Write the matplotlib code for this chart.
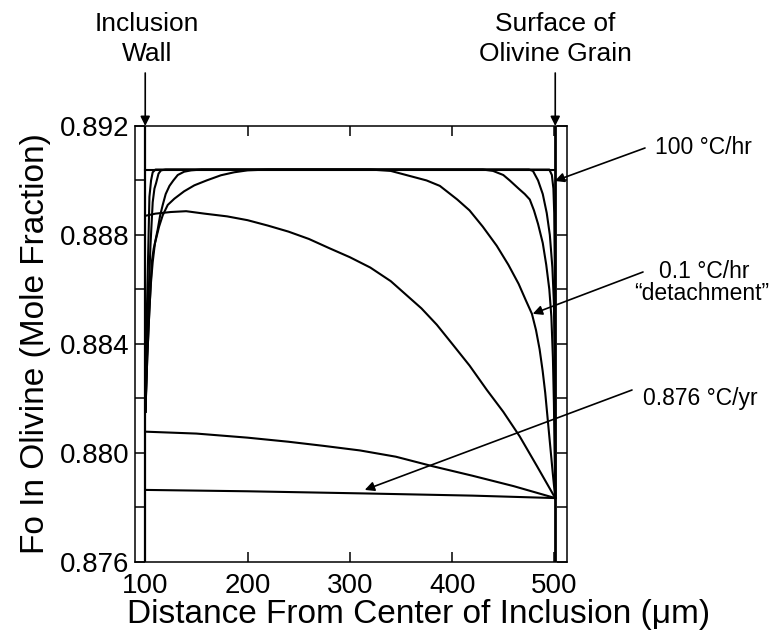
import numpy as np
import matplotlib
matplotlib.use("Agg")
import matplotlib.pyplot as plt
from matplotlib.ticker import MultipleLocator, FormatStrFormatter

plt.rcParams['font.family'] = ['Liberation Sans', 'DejaVu Sans']

# profiles: distance (um) vs Fo
x_a = [100, 500.8]
y_a = [0.8904, 0.8904]

x_b = [100.3, 101.5, 103.4, 104.1, 105.7, 107.3, 110, 495, 497.5, 499, 499.8, 500.3, 500.6, 500.8]
y_b = [0.8815, 0.8850, 0.8882, 0.8894, 0.8900, 0.8903, 0.8904, 0.8904, 0.8902, 0.8897, 0.8888, 0.8870, 0.8830, 0.87833]

x_c = [100.2, 102, 103.5, 105.1, 107.3, 109, 110.6, 113, 115.4, 120,
       475, 479, 484, 488.6, 492.5, 495.5, 498, 499.5, 500.3, 500.8]
y_c = [0.8815, 0.8840, 0.8860, 0.8876, 0.8892, 0.8897, 0.8899, 0.89025, 0.89037, 0.8904,
       0.8904, 0.89035, 0.8900, 0.8895, 0.8888, 0.8880, 0.8868, 0.8855, 0.8830, 0.87833]

x_d = [100.2, 102, 104, 105.5, 107.3, 109.5, 112.2, 114.5, 117.1, 120, 123.7, 127.5, 131.8, 138, 144.8, 155,
       430, 440, 450, 456.3, 465, 471, 475.9, 480, 484, 488.6, 492, 495, 497, 498.5, 499.5, 500.8]
y_d = [0.8815, 0.8835, 0.8852, 0.8862, 0.8870, 0.8877, 0.8882, 0.8887, 0.8891, 0.8895, 0.8898, 0.8900, 0.8902, 0.89032, 0.89037, 0.8904,
       0.8904, 0.89035, 0.89020, 0.8900, 0.8897, 0.8895, 0.8893, 0.8889, 0.8884, 0.8877, 0.8869, 0.8860, 0.8850, 0.8835, 0.8818, 0.87833]

x_e = [100.2, 102, 103.8, 105.1, 106.4, 108.3, 110.6, 113.5, 117.1, 122, 128.5, 138, 148, 160, 174, 187, 200, 220,
       320, 340, 360, 375, 388, 405, 417, 430, 443.6, 455, 465, 472, 478, 482, 485.5, 488.5, 491, 493.5, 496, 498.5, 500.8]
y_e = [0.8815, 0.8835, 0.8850, 0.8860, 0.8870, 0.8875, 0.88786, 0.8883, 0.88872, 0.8891, 0.88933, 0.8896, 0.88982, 0.8900, 0.89019, 0.8903, 0.89037, 0.8904,
       0.8904, 0.89035, 0.89015, 0.8900, 0.8898, 0.8893, 0.8889, 0.8883, 0.8876, 0.8869, 0.8862, 0.8856, 0.8851, 0.8845, 0.8838, 0.8830, 0.8822, 0.8812, 0.8802, 0.8792, 0.87833]

x_f = [100, 110, 125, 140, 158, 180, 200, 220, 240, 260, 280, 300, 320, 340, 355, 370, 385, 400, 417, 434, 450, 466, 483, 500.8]
y_f = [0.8887, 0.88878, 0.88884, 0.88887, 0.88878, 0.88868, 0.88854, 0.88834, 0.88812, 0.88785, 0.88751, 0.88718, 0.8868,
       0.8863, 0.8858, 0.8853, 0.8847, 0.8840, 0.8832, 0.8823, 0.8815, 0.8806, 0.8795, 0.87833]

x_g = [100, 150, 200, 240, 274, 310, 345, 381, 420, 460, 500.8]
y_g = [0.88077, 0.88070, 0.88055, 0.88040, 0.88025, 0.88008, 0.87985, 0.87950, 0.87915, 0.87877, 0.87833]

x_h = [100, 200, 315, 420, 500.8]
y_h = [0.87863, 0.87858, 0.87850, 0.87842, 0.87833]

wall_x = 100
surface_x = 500.8

fig = plt.figure(figsize=(7.73, 6.35), dpi=100)
ax = fig.add_axes([135/773, 1-561.5/635, (566.7-135)/773, (561.5-126)/635])

for xs, ys in [(x_a, y_a), (x_b, y_b), (x_c, y_c), (x_d, y_d), (x_e, y_e),
               (x_f, y_f), (x_g, y_g), (x_h, y_h)]:
    ax.plot(xs, ys, color='black', lw=1.5, solid_joinstyle='round')

ax.axvline(wall_x, color='black', lw=1.6)
ax.axvline(surface_x, color='black', lw=2.0)

ax.set_xlim(90, 512)
ax.set_ylim(0.876, 0.892)
ax.set_xticks([100, 200, 300, 400, 500])
ax.yaxis.set_major_locator(MultipleLocator(0.004))
ax.yaxis.set_minor_locator(MultipleLocator(0.002))
ax.yaxis.set_major_formatter(FormatStrFormatter('%.3f'))
ax.tick_params(which='both', direction='in', top=True, right=True, length=7, width=1.1,
               labelsize=20, pad=4)
ax.tick_params(axis='x', pad=8)
for s in ax.spines.values():
    s.set_linewidth(1.1)

ax.set_ylabel('Fo In Olivine (Mole Fraction)', fontsize=24, labelpad=6)
fig.text(419/773, 1-615/635, 'Distance From Center of Inclusion (\u03bcm)', fontsize=24,
         ha='center', va='center')

# boundary labels on top
fig.text(147/773, 1-39/635, 'Inclusion\nWall', fontsize=19, ha='center', va='center', linespacing=1.35)
fig.text(555/773, 1-39/635, 'Surface of\nOlivine Grain', fontsize=19, ha='center', va='center', linespacing=1.35)
arr = dict(arrowstyle='-|>', color='black', lw=1.2, mutation_scale=14, shrinkA=0, shrinkB=0)
ax.annotate('', xy=(wall_x, 0.892), xycoords='data',
            xytext=(wall_x, 1-73/635), textcoords=('data', 'figure fraction'), arrowprops=arr)
ax.annotate('', xy=(surface_x, 0.892), xycoords='data',
            xytext=(surface_x, 1-73/635), textcoords=('data', 'figure fraction'), arrowprops=arr)

# rate labels
fig.text(655/773, 1-147/635, '100 \u00b0C/hr', fontsize=16.5, ha='left', va='center')
fig.text(704/773, 1-272/635, '0.1 \u00b0C/hr', fontsize=16.5, ha='center', va='center')
fig.text(702/773, 1-293/635, '\u201cdetachment\u201d', fontsize=16.5, ha='center', va='center')
fig.text(643/773, 1-398/635, '0.876 \u00b0C/yr', fontsize=16.5, ha='left', va='center')
ax.annotate('', xy=(500.3, 0.88998), xytext=(645/773, 1-148/635),
            textcoords='figure fraction', arrowprops=arr, annotation_clip=False)
ax.annotate('', xy=(478.8, 0.8851), xytext=(643/773, 1-272/635),
            textcoords='figure fraction', arrowprops=arr, annotation_clip=False)
ax.annotate('', xy=(314.6, 0.87863), xytext=(632/773, 1-390/635),
            textcoords='figure fraction', arrowprops=arr, annotation_clip=False)

fig.savefig('out.png', dpi=100)
